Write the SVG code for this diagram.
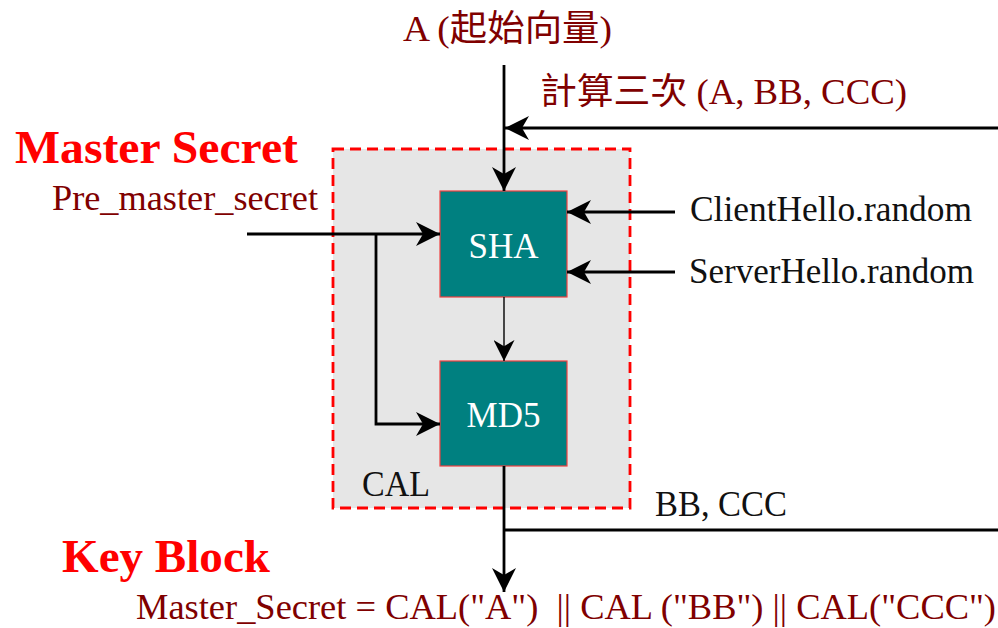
<svg xmlns="http://www.w3.org/2000/svg" width="998" height="628" viewBox="0 0 998 628">
<style>
text{font-family:"Liberation Serif","Noto Sans CJK TC",serif;white-space:pre}
.dr{fill:#800000;font-size:36px}
.bk{fill:#111;font-size:36px}
.wt{fill:#fff;font-size:35px}
.rb{fill:#ff0000;font-size:46px;font-weight:bold}
.ln{stroke:#000;stroke-width:2.8;fill:none}
.thin{stroke:#000;stroke-width:1.4;fill:none}
.blk{fill:#008080;stroke:#f04040;stroke-width:1.2}
</style>
<defs>
<marker id="ah" viewBox="0 0 24 24" refX="24" refY="12" markerWidth="24" markerHeight="24" markerUnits="userSpaceOnUse" orient="auto">
<path d="M0,0 L24,12 L0,24 L7,12 z" fill="#000"/>
</marker>
<marker id="ahs" viewBox="0 0 24 24" refX="24" refY="12" markerWidth="21" markerHeight="21" markerUnits="userSpaceOnUse" orient="auto">
<path d="M0,0 L24,12 L0,24 L7,12 z" fill="#000"/>
</marker>
</defs>
<rect width="998" height="628" fill="#fff"/>
<g id="cal">
<rect x="333" y="149" width="297" height="359" fill="#e6e6e6" stroke="#ff0000" stroke-width="2.8" stroke-dasharray="11,6"/>
<text class="bk" x="362" y="496" textLength="68" lengthAdjust="spacingAndGlyphs">CAL</text>
</g>
<g id="sha">
<rect class="blk" x="440" y="191" width="127" height="106"/>
<text class="wt" x="503.5" y="258" text-anchor="middle">SHA</text>
</g>
<g id="md5">
<rect class="blk" x="440" y="361" width="127" height="105"/>
<text class="wt" x="503.5" y="427" text-anchor="middle">MD5</text>
</g>
<g id="labels">
<text class="dr" x="403" y="41" textLength="209" lengthAdjust="spacingAndGlyphs">A (起始向量)</text>
<text class="dr" x="540" y="104" textLength="367" lengthAdjust="spacingAndGlyphs">計算三次 (A, BB, CCC)</text>
<text class="rb" x="15" y="163" textLength="283" lengthAdjust="spacingAndGlyphs">Master Secret</text>
<text class="dr" x="52" y="210" textLength="266" lengthAdjust="spacingAndGlyphs">Pre_master_secret</text>
<text class="bk" x="690" y="221" textLength="282" lengthAdjust="spacingAndGlyphs">ClientHello.random</text>
<text class="bk" x="689" y="283" textLength="285" lengthAdjust="spacingAndGlyphs">ServerHello.random</text>
<text class="bk" x="655" y="516" textLength="132" lengthAdjust="spacingAndGlyphs">BB, CCC</text>
<text class="rb" x="62" y="572" textLength="208" lengthAdjust="spacingAndGlyphs">Key Block</text>
<text class="dr" x="136" y="619" textLength="860" lengthAdjust="spacingAndGlyphs">Master_Secret = CAL("A")  || CAL ("BB") || CAL("CCC")</text>
</g>
<g id="connectors">
<path class="ln" d="M504,65 V191" marker-end="url(#ah)"/>
<path class="ln" d="M998,128 H505" marker-end="url(#ah)"/>
<path class="ln" d="M247,234 H440" marker-end="url(#ah)"/>
<path class="ln" d="M376,234 V424 H440" marker-end="url(#ah)"/>
<path class="ln" d="M675,212 H567" marker-end="url(#ah)"/>
<path class="ln" d="M675,272 H567" marker-end="url(#ah)"/>
<path class="thin" d="M504,297 V361" marker-end="url(#ahs)"/>
<path class="ln" d="M504,466 V592" marker-end="url(#ah)"/>
<path class="ln" d="M504,530 H998" stroke-width="3.4"/>
</g>
</svg>
